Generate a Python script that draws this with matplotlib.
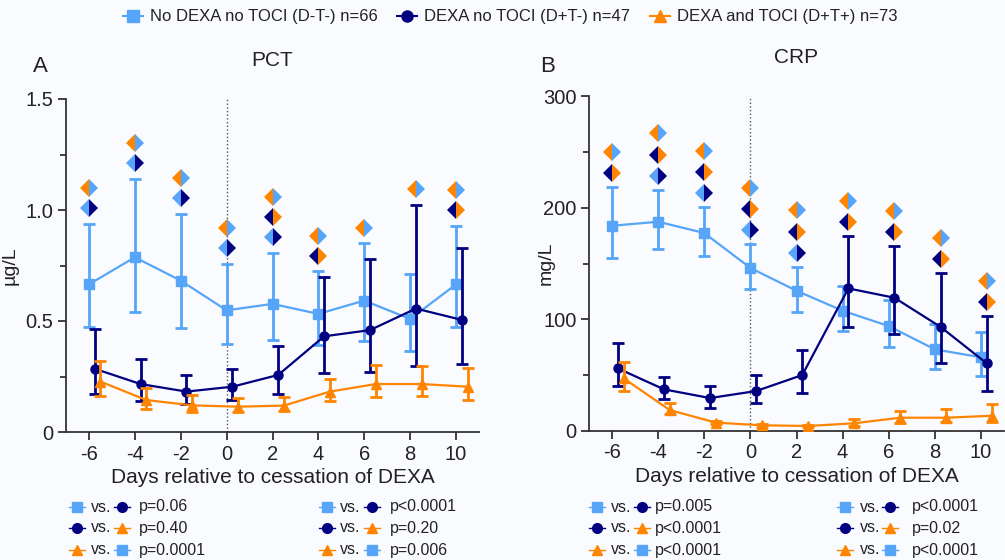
import matplotlib
matplotlib.use("Agg")
import matplotlib.pyplot as plt
from matplotlib.lines import Line2D
from matplotlib.ticker import MultipleLocator
import numpy as np

plt.rcParams['font.family'] = ['Liberation Sans', 'DejaVu Sans']
plt.rcParams['axes.unicode_minus'] = False

days = [-6, -4, -2, 0, 2, 4, 6, 8, 10]

# PCT (ug/L): mean with lower / upper bounds per group
pct_dmtm = [0.665, 0.787, 0.682, 0.548, 0.577, 0.532, 0.592, 0.509, 0.665]
pct_dmtm_lo = [0.473, 0.542, 0.468, 0.396, 0.416, 0.390, 0.411, 0.366, 0.473]
pct_dmtm_hi = [0.937, 1.140, 0.982, 0.757, 0.808, 0.725, 0.851, 0.713, 0.928]
pct_dptm = [0.285, 0.216, 0.182, 0.204, 0.257, 0.431, 0.459, 0.556, 0.505]
pct_dptm_lo = [0.171, 0.141, 0.128, 0.146, 0.171, 0.266, 0.270, 0.297, 0.306]
pct_dptm_hi = [0.464, 0.330, 0.257, 0.285, 0.387, 0.700, 0.779, 1.024, 0.830]
pct_dptp = [0.227, 0.144, 0.120, 0.114, 0.119, 0.182, 0.216, 0.216, 0.204]
pct_dptp_lo = [0.164, 0.105, 0.092, 0.092, 0.096, 0.140, 0.159, 0.164, 0.144]
pct_dptp_hi = [0.321, 0.200, 0.168, 0.153, 0.159, 0.239, 0.302, 0.297, 0.290]

# CRP (mg/L)
crp_dmtm = [183.8, 187.4, 177.3, 146.0, 125.6, 107.7, 94.0, 73.1, 66.0]
crp_dmtm_lo = [155.0, 163.0, 157.0, 127.0, 106.8, 89.8, 75.5, 55.8, 49.5]
crp_dmtm_hi = [218.7, 216.0, 200.5, 167.4, 147.0, 130.0, 117.3, 96.0, 88.9]
crp_dptm = [56.1, 37.3, 29.5, 35.8, 50.1, 127.7, 119.3, 93.2, 60.6]
crp_dptm_lo = [40.6, 28.9, 20.9, 25.3, 34.3, 93.1, 86.6, 61.0, 36.1]
crp_dptm_hi = [78.5, 48.3, 40.6, 50.1, 72.5, 174.8, 165.3, 141.5, 103.0]
crp_dptp = [47.2, 18.8, 7.5, 5.1, 4.5, 6.9, 11.9, 11.9, 13.7]
crp_dptp_lo = [36.1, 15.2, 6.0, 4.0, 3.5, 4.5, 7.0, 7.8, 7.8]
crp_dptp_hi = [62.0, 25.0, 9.0, 6.2, 5.5, 11.0, 17.9, 20.0, 24.2]

# significant pairwise differences per day
# ab: D-T- vs D+T-, bc: D+T- vs D+T+, ca: D+T+ vs D-T-
pct_sig = [['ab', 'ca'], ['ab', 'ca'], ['ab', 'ca'], ['ab', 'ca'],
           ['ab', 'bc', 'ca'], ['bc', 'ca'], ['ca'], ['ca'], ['bc', 'ca']]
crp_sig = [['bc', 'ca'], ['ab', 'bc', 'ca'], ['ab', 'bc', 'ca'],
           ['ab', 'bc', 'ca'], ['ab', 'bc', 'ca'], ['bc', 'ca'],
           ['bc', 'ca'], ['bc', 'ca'], ['bc', 'ca']]

# overall comparisons (two columns of p values per panel)
pct_p_left = ['p=0.06', 'p=0.40', 'p=0.0001']
pct_p_right = ['p<0.0001', 'p=0.20', 'p=0.006']
crp_p_left = ['p=0.005', 'p<0.0001', 'p<0.0001']
crp_p_right = ['p<0.0001', 'p=0.02', 'p<0.0001']

group_names = ['No DEXA no TOCI (D-T-) n=66', 'DEXA no TOCI (D+T-) n=47',
               'DEXA and TOCI (D+T+) n=73']

pct_ticks = [0, 0.5, 1.0, 1.5]
pct_ticklabels = ['0', '0.5', '1.0', '1.5']
crp_ticks = [0, 100, 200, 300]
crp_ticklabels = ['0', '100', '200', '300']

LB = '#56a5f8'
NV = '#000080'
OR = '#ff8500'
BG = '#fafbfe'
TXT = '#222222'
colors = [LB, NV, OR]
markers = ['s', 'o', '^']
msizes = [7, 6.5, 7]
offsets = [0.0, 0.25, 0.5]
pair_cols = {'ab': (LB, NV), 'bc': (NV, OR), 'ca': (OR, LB)}

W, H = 1005, 560
fig = plt.figure(figsize=(W / 100, H / 100), dpi=100, facecolor=BG)


def px(x, y):
    return x / W, 1 - y / H


def draw_panel(ax, means, los, his, sig, gap, step, ticks, ticklabels,
               yminor, ylabel, label_x, title, letter, letter_x):
    ax.set_facecolor(BG)
    ymax = ticks[-1]
    for i in range(3):
        m = np.array(means[i])
        err = [m - np.array(los[i]), np.array(his[i]) - m]
        x = np.array(days) + offsets[i]
        ax.errorbar(x, m, yerr=err, color=colors[i], marker=markers[i],
                    ms=msizes[i], lw=1.6, elinewidth=2, capsize=4,
                    capthick=2, zorder=3 + i)
    ax.plot([0, 0], [0, ymax], color='#555555', ls=':', lw=1, zorder=1)

    # significance diamonds stacked above the highest error bar
    for j, d in enumerate(days):
        tops = [his[i][j] for i in range(3)]
        k = int(np.argmax(tops))
        y0 = tops[k] + gap
        for n, code in enumerate(sig[j]):
            left, right = pair_cols[code]
            ax.plot(d + offsets[k], y0 + n * step, marker='D', ms=9.5,
                    fillstyle='left', markerfacecolor=left,
                    markerfacecoloralt=right, markeredgewidth=0,
                    linestyle='none', zorder=8, clip_on=False)

    ax.set_xlim(-7, 11)
    ax.set_ylim(0, ymax)
    ax.set_xticks(days)
    ax.set_yticks(ticks, ticklabels)
    ax.yaxis.set_minor_locator(MultipleLocator(yminor))
    for s in ['top', 'right']:
        ax.spines[s].set_visible(False)
    for s in ['left', 'bottom']:
        ax.spines[s].set_color('#333333')
        ax.spines[s].set_linewidth(1.3)
    ax.tick_params(which='major', length=6, width=1.3, color='#333333',
                   labelsize=14.5, labelcolor=TXT, pad=3)
    ax.tick_params(which='minor', length=4, width=1.3, color='#333333')
    ax.set_xlabel('Days relative to cessation of DEXA', fontsize=15,
                  color=TXT, labelpad=3)
    ax.set_ylabel(ylabel, fontsize=14, color=TXT)
    ax.yaxis.set_label_coords(label_x, 0.5)
    ax.set_title(title, fontsize=15, color=TXT, pad=24)
    fig.text(*px(letter_x, 66), letter, fontsize=16, color=TXT,
             ha='center', va='center')


ax1 = fig.add_axes([66 / W, 1 - 432 / H, (479 - 66) / W, (432 - 99) / H])
ax2 = fig.add_axes([589 / W, 1 - 431 / H, (1004 - 589) / W, (431 - 96) / H])

draw_panel(ax1, [pct_dmtm, pct_dptm, pct_dptp],
           [pct_dmtm_lo, pct_dptm_lo, pct_dptp_lo],
           [pct_dmtm_hi, pct_dptm_hi, pct_dptp_hi],
           pct_sig, 0.07, 0.09, pct_ticks, pct_ticklabels, 0.25,
           'µg/L', -0.115, 'PCT', 'A', 40)
draw_panel(ax2, [crp_dmtm, crp_dptm, crp_dptp],
           [crp_dmtm_lo, crp_dptm_lo, crp_dptp_lo],
           [crp_dmtm_hi, crp_dptm_hi, crp_dptp_hi],
           crp_sig, 12.5, 19, crp_ticks, crp_ticklabels, 50,
           'mg/L', -0.082, 'CRP', 'B', 548)

# group legend along the top
handles = [Line2D([], [], color=colors[i], marker=markers[i], ms=8, lw=1.5)
           for i in range(3)]
fig.legend(handles, group_names, loc='center', ncol=3,
           bbox_to_anchor=(510 / W, 1 - 17 / H), frameon=False,
           fontsize=12, handlelength=1.2, handletextpad=0.4,
           columnspacing=1.2, labelcolor=TXT)


def glyph(x, y, i):
    fx, fy = px(x, y)
    d = 8 / W
    fig.add_artist(Line2D([fx - d, fx, fx + d], [fy, fy, fy],
                          transform=fig.transFigure, color=colors[i], lw=1,
                          marker=markers[i], markevery=[1], ms=7))


row_pairs = [(0, 1), (1, 2), (2, 0)]
row_y = [507, 528, 550]
blocks = [(77, 91, 122, 139, pct_p_left), (327, 340, 372, 390, pct_p_right),
          (597, 611, 642, 655, crp_p_left), (845, 860, 890, 912, crp_p_right)]
for mx1, vx, mx2, tx, labels in blocks:
    for r in range(3):
        a, b = row_pairs[r]
        glyph(mx1, row_y[r], a)
        glyph(mx2, row_y[r], b)
        fig.text(*px(vx, row_y[r]), 'vs.', fontsize=11.5, color=TXT,
                 va='center', ha='left')
        fig.text(*px(tx, row_y[r]), labels[r], fontsize=11.5, color=TXT,
                 va='center', ha='left')

fig.savefig('out.png', dpi=100, facecolor=BG)
